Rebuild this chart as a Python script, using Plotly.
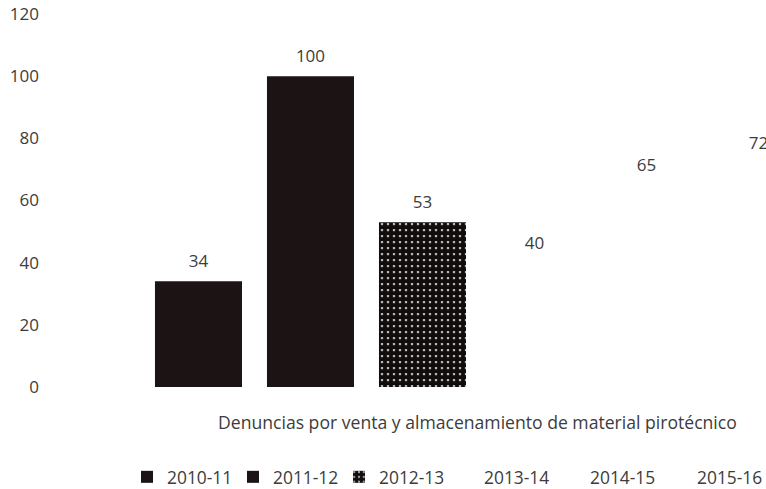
import plotly.graph_objects as go

years = ["2010-11", "2011-12", "2012-13", "2013-14", "2014-15", "2015-16"]
values = [34, 100, 53, 40, 65, 72]
bar_colors = ["#1c1414", "#1c1414", "white", "white", "white", "white"]
title_text = "Denuncias por venta y almacenamiento de material pirotécnico"
y_ticks = [0, 20, 40, 60, 80, 100, 120]
legend_groups = ["legend", "legend", "legend", "legend2", "legend2", "legend3"]

FONT = "Open Sans"
TXT = "#3c3c3c"

fig = go.Figure()
for i, (yr, v) in enumerate(zip(years, values)):
    marker = dict(color=bar_colors[i], line=dict(width=0))
    if yr == "2012-13":
        marker = dict(color="white", line=dict(width=0),
                      pattern=dict(shape=".", fgcolor="#120d0d", bgcolor="white",
                                   size=6, solidity=0.82, fillmode="replace"))
    fig.add_trace(go.Bar(x=[yr], y=[v], name=yr, marker=marker,
                         legend=legend_groups[i], hoverinfo="skip"))

fig.add_trace(go.Scatter(x=years, y=values, text=[str(v) for v in values],
                         mode="markers+text", textposition="top center",
                         marker=dict(size=14, opacity=0),
                         textfont=dict(family=FONT, size=17, color=TXT),
                         showlegend=False, cliponaxis=False, hoverinfo="skip"))

fig.add_annotation(text=title_text, xref="paper", yref="paper",
                   x=0.6026, y=-0.0933, xanchor="center", yanchor="middle",
                   showarrow=False, font=dict(family=FONT, size=17.6, color=TXT))

leg_common = dict(orientation="h", xref="container", yref="container",
                  xanchor="left", yanchor="top", y=0.0613,
                  font=dict(family=FONT, size=17.4, color=TXT),
                  traceorder="normal", itemclick=False, bgcolor="rgba(0,0,0,0)")

fig.update_layout(
    width=766, height=489,
    margin=dict(l=40, r=0, t=14, b=102, autoexpand=False),
    paper_bgcolor="white", plot_bgcolor="white",
    barmode="overlay", bargap=0.223,
    font=dict(family=FONT, size=17, color=TXT),
    xaxis=dict(type="category", categoryorder="array", categoryarray=years,
               range=[-1.415, 5.067], showticklabels=False, showgrid=False,
               zeroline=False, showline=False, ticks="", automargin=False),
    yaxis=dict(range=[0, 120], tickvals=y_ticks, showgrid=False, zeroline=False,
               showline=False, ticks="", automargin=False, ticklabeloverflow="allow",
               tickfont=dict(family=FONT, size=17, color=TXT)),
    legend=dict(x=127 / 766, entrywidth=61, **leg_common),
    legend2=dict(x=444 / 766, entrywidth=61, **leg_common),
    legend3=dict(x=657 / 766, **leg_common),
    showlegend=True,
)

fig.write_html(
    "out.html",
    config={"displayModeBar": False},
    post_script="document.documentElement.style.overflow='hidden';"
                "document.body.style.margin='0';document.body.style.overflow='hidden';",
)
